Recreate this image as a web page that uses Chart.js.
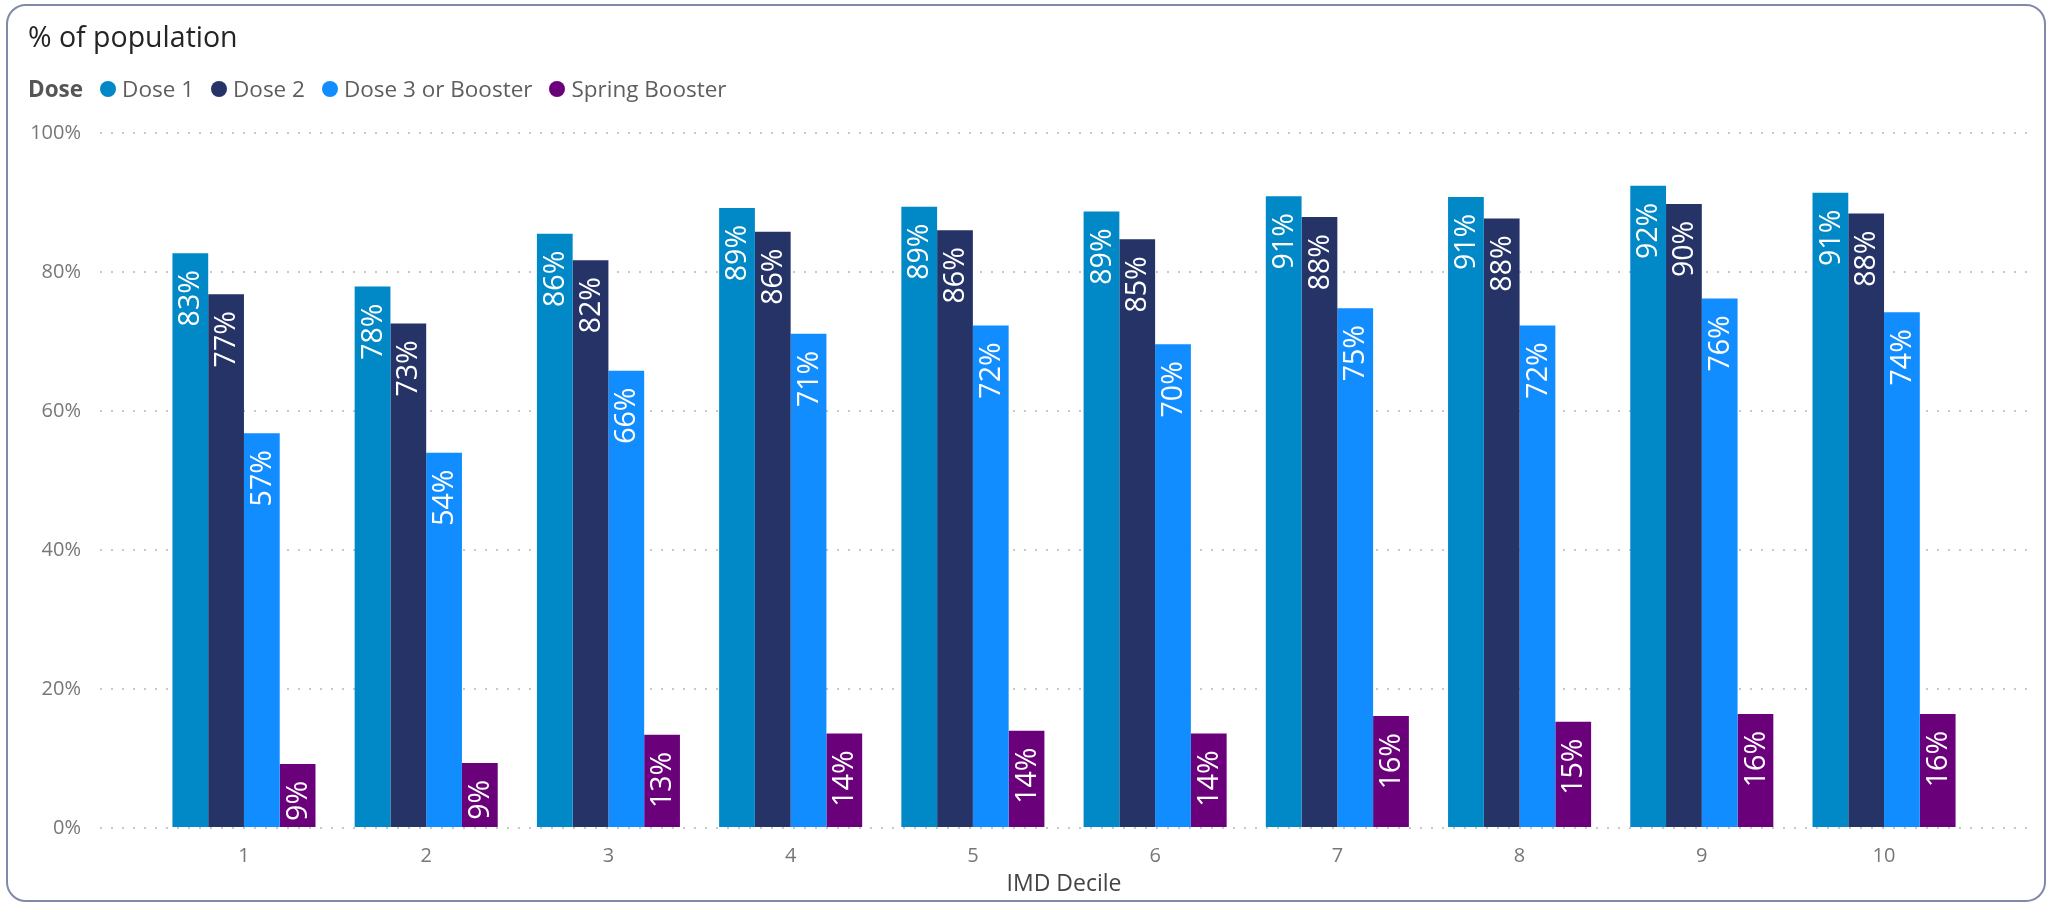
<!DOCTYPE html>
<html>
<head>
<meta charset="utf-8">
<title>% of population</title>
<script src="https://cdn.jsdelivr.net/npm/chart.js@4/dist/chart.umd.min.js"></script>
<style>
    html, body { margin: 0; padding: 0; background: #ffffff; }
    body { width: 2054px; height: 908px; position: relative; overflow: hidden; font-family: "Open Sans", "Noto Sans", sans-serif; }
    #card { position: absolute; left: 6px; top: 4px; width: 2036px; height: 894px; border: 2px solid #8089aa; border-radius: 20px; pointer-events: none; }
    #title { position: absolute; left: 28px; top: 22px; font-size: 28.5px; line-height: 28px; color: #252423; }
    #legend { position: absolute; left: 28px; top: 78px; font-size: 22.5px; line-height: 22px; color: #605e5c; display: flex; align-items: center; }
    #legend .head { font-weight: bold; color: #555555; margin-right: 17px; }
    #legend .item { display: flex; align-items: center; margin-right: 17px; }
    #legend .dot { width: 16px; height: 16px; border-radius: 50%; margin-right: 6px; }
    #chart { position: absolute; left: 0; top: 0; }
</style>
</head>
<body>
<canvas id="chart" width="2054" height="908"></canvas>
<div id="title">% of population</div>
<div id="legend"></div>
<div id="card"></div>
<script>
// Data
const deciles = ["1", "2", "3", "4", "5", "6", "7", "8", "9", "10"];
const seriesNames = ["Dose 1", "Dose 2", "Dose 3 or Booster", "Spring Booster"];
const dose1 = [82.7, 77.9, 85.5, 89.2, 89.4, 88.7, 90.9, 90.8, 92.4, 91.4];
const dose2 = [76.8, 72.6, 81.7, 85.8, 86.0, 84.7, 87.9, 87.7, 89.8, 88.4];
const dose3 = [56.8, 54.0, 65.8, 71.1, 72.3, 69.6, 74.8, 72.3, 76.2, 74.2];
const springBooster = [9.2, 9.35, 13.4, 13.6, 14.0, 13.6, 16.1, 15.3, 16.4, 16.4];
const yTicks = [0, 20, 40, 60, 80, 100];

// Colors
const COLOR_DOSE_1 = "#0088c7";
const COLOR_DOSE_2 = "#253367";
const COLOR_DOSE_3 = "#118dff";
const COLOR_SPRING = "#6b007b";
const seriesColors = [COLOR_DOSE_1, COLOR_DOSE_2, COLOR_DOSE_3, COLOR_SPRING];

const FONT = "'Open Sans', 'Noto Sans', sans-serif";

// Legend row (Power BI style, "Dose" heading inline)
function buildLegend() {
    var legend = document.getElementById("legend");
    var head = document.createElement("span");
    head.className = "head";
    head.textContent = "Dose";
    legend.appendChild(head);
    for (var i = 0; i < seriesNames.length; i++) {
        var item = document.createElement("span");
        item.className = "item";
        var dot = document.createElement("span");
        dot.className = "dot";
        dot.style.background = seriesColors[i];
        item.appendChild(dot);
        item.appendChild(document.createTextNode(seriesNames[i]));
        legend.appendChild(item);
    }
}

// Rotated value labels, inside the end of each bar
const barLabels = {
    id: "barLabels",
    afterDatasetsDraw(chart) {
        const ctx = chart.ctx;
        ctx.save();
        ctx.font = "28.5px " + FONT;
        ctx.fillStyle = "#ffffff";
        ctx.textAlign = "right";
        ctx.textBaseline = "middle";
        chart.data.datasets.forEach(function (ds, di) {
            const meta = chart.getDatasetMeta(di);
            meta.data.forEach(function (bar, i) {
                const p = bar.getProps(["x", "y"], true);
                ctx.save();
                ctx.translate(p.x, p.y + 17);
                ctx.rotate(-Math.PI / 2);
                ctx.fillText(Math.round(ds.data[i].y) + "%", 0, 1);
                ctx.restore();
            });
        });
        ctx.restore();
    }
};

function toPoints(values) {
    var points = [];
    for (var i = 0; i < deciles.length; i++) {
        points.push({ x: Number(deciles[i]), y: values[i] });
    }
    return points;
}

function createChart(canvasId) {
    const allValues = [dose1, dose2, dose3, springBooster];
    const datasets = [];
    for (var i = 0; i < seriesNames.length; i++) {
        datasets.push({
            label: seriesNames[i],
            data: toPoints(allValues[i]),
            backgroundColor: seriesColors[i],
            borderWidth: 0,
            categoryPercentage: 0.785,
            barPercentage: 1.0
        });
    }

    return new Chart(canvasId, {
        type: "bar",
        data: { datasets: datasets },
        plugins: [barLabels],
        options: {
            responsive: false,
            animation: false,
            layout: {
                padding: { top: 133, right: 26, left: 0, bottom: 0 }
            },
            plugins: {
                legend: { display: false },
                title: { display: false },
                tooltip: { enabled: false }
            },
            scales: {
                x: {
                    type: "linear",
                    offset: false,
                    min: 0.21,
                    max: 10.79,
                    grid: { display: false, offset: false },
                    border: { display: false },
                    afterFit: function (scale) { scale.height = 80; },
                    ticks: {
                        stepSize: 1,
                        includeBounds: false,
                        padding: 8,
                        color: "#777777",
                        font: { family: FONT, size: 20 },
                        callback: function (value) {
                            return deciles[value - 1];
                        }
                    },
                    title: {
                        display: true,
                        text: "IMD Decile",
                        color: "#444444",
                        font: { family: FONT, size: 23 },
                        padding: { top: 2, bottom: 10 }
                    }
                },
                y: {
                    min: 0,
                    max: 100,
                    afterFit: function (scale) { scale.width = 100; },
                    afterBuildTicks: function (scale) {
                        scale.ticks = yTicks.map(function (v) { return { value: v }; });
                    },
                    grid: {
                        color: "#c8c8c8",
                        lineWidth: 2,
                        drawTicks: false
                    },
                    border: { display: false, dash: [2, 9] },
                    ticks: {
                        padding: 19,
                        color: "#777777",
                        font: { family: FONT, size: 20 },
                        callback: function (value) { return value + "%"; }
                    }
                }
            }
        }
    });
}

buildLegend();
createChart("chart");
</script>
</body>
</html>
